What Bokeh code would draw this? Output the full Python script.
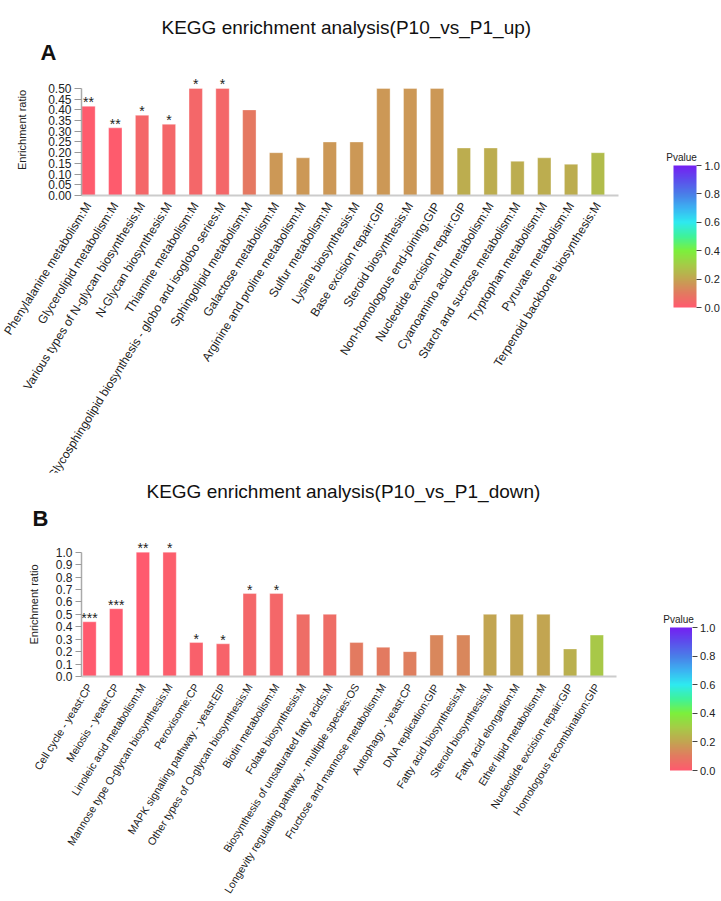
import numpy as np
from bokeh.plotting import figure
from bokeh.models import (ColumnDataSource, LinearColorMapper, ColorBar, FixedTicker,
                          PrintfTickFormatter, Label, Title)
from bokeh.layouts import column
from bokeh.transform import transform
from bokeh.embed import file_html
from bokeh.resources import INLINE
from bokeh.core.properties import value

FONT = "Liberation Sans"

# ---------------- data: P10 vs P1 up ----------------
up_pathways = [
    "Phenylalanine metabolism:M",
    "Glycerolipid metabolism:M",
    "Various types of N-glycan biosynthesis:M",
    "N-Glycan biosynthesis:M",
    "Thiamine metabolism:M",
    "Glycosphingolipid biosynthesis - globo and isoglobo series:M",
    "Sphingolipid metabolism:M",
    "Galactose metabolism:M",
    "Arginine and proline metabolism:M",
    "Sulfur metabolism:M",
    "Lysine biosynthesis:M",
    "Base excision repair:GIP",
    "Steroid biosynthesis:M",
    "Non-homologous end-joining:GIP",
    "Nucleotide excision repair:GIP",
    "Cyanoamino acid metabolism:M",
    "Starch and sucrose metabolism:M",
    "Tryptophan metabolism:M",
    "Pyruvate metabolism:M",
    "Terpenoid backbone biosynthesis:M",
]
up_ratio = [0.417, 0.316, 0.375, 0.333, 0.5, 0.5, 0.4, 0.2, 0.176, 0.25,
            0.25, 0.5, 0.5, 0.5, 0.222, 0.222, 0.16, 0.176, 0.146, 0.2]
up_pvalue = [0.004, 0.006, 0.04, 0.04, 0.04, 0.04, 0.09, 0.17, 0.17, 0.17,
             0.17, 0.17, 0.17, 0.17, 0.22, 0.22, 0.22, 0.22, 0.22, 0.26]
up_stars = ["**", "**", "*", "*", "*", "*", "", "", "", "",
            "", "", "", "", "", "", "", "", "", ""]

# ---------------- data: P10 vs P1 down ----------------
down_pathways = [
    "Cell cycle - yeast:CP",
    "Meiosis - yeast:CP",
    "Linoleic acid metabolism:M",
    "Mannose type O-glycan biosynthesis:M",
    "Peroxisome:CP",
    "MAPK signaling pathway - yeast:EIP",
    "Other types of O-glycan biosynthesis:M",
    "Biotin metabolism:M",
    "Folate biosynthesis:M",
    "Biosynthesis of unsaturated fatty acids:M",
    "Longevity regulating pathway - multiple species:OS",
    "Fructose and mannose metabolism:M",
    "Autophagy - yeast:CP",
    "DNA replication:GIP",
    "Fatty acid biosynthesis:M",
    "Steroid biosynthesis:M",
    "Fatty acid elongation:M",
    "Ether lipid metabolism:M",
    "Nucleotide excision repair:GIP",
    "Homologous recombination:GIP",
]
down_ratio = [0.44, 0.545, 1.0, 1.0, 0.273, 0.263, 0.667, 0.667, 0.5, 0.5,
              0.273, 0.235, 0.2, 0.333, 0.333, 0.5, 0.5, 0.5, 0.222, 0.333]
down_pvalue = [0.0005, 0.0008, 0.003, 0.012, 0.02, 0.03, 0.04, 0.04, 0.06, 0.06,
               0.1, 0.1, 0.11, 0.13, 0.13, 0.2, 0.2, 0.2, 0.23, 0.29]
down_stars = ["***", "***", "**", "*", "*", "*", "*", "*", "", "",
              "", "", "", "", "", "", "", "", "", ""]

up_yticks = [0, 0.05, 0.1, 0.15, 0.2, 0.25, 0.3, 0.35, 0.4, 0.45, 0.5]
down_yticks = [0, 0.1, 0.2, 0.3, 0.4, 0.5, 0.6, 0.7, 0.8, 0.9, 1.0]
cb_ticks = [0, 0.2, 0.4, 0.6, 0.8, 1.0]

# colour scale for the p-value
scale_pos = [0.0, 0.1, 0.2, 0.3, 0.4, 0.5, 0.6, 0.7, 0.8, 0.9, 1.0]
scale_col = ["#ff5a6e", "#e27b60", "#c2a551", "#a5cc47", "#7cf03c", "#3ff29a",
             "#2eeaf0", "#3cb2f2", "#4a7ee8", "#5c4eec", "#7420f2"]


def build_palette(n=256):
    rgb = np.array([[int(c[i:i + 2], 16) for i in (1, 3, 5)] for c in scale_col], float)
    t = np.linspace(0, 1, n)
    chans = [np.interp(t, scale_pos, rgb[:, k]) for k in range(3)]
    return ["#%02x%02x%02x" % (int(round(r)), int(round(g)), int(round(b)))
            for r, g, b in zip(*chans)]


PALETTE = build_palette()


def make_panel(title, letter, cats, ratio, pv, stars, y_end, y_top, y_ticks, y_fmt,
               x_start, x_end, x_bound, height, b_left, b_top, b_bottom,
               title_off, title_standoff, letter_off, letter_standoff, ylab_standoff,
               tick_out, xlab_size, cb_xy, cb_size, pv_xy):
    mapper = LinearColorMapper(palette=PALETTE, low=0, high=1)
    xs = list(range(len(cats)))
    src = ColumnDataSource(dict(x=xs, ratio=ratio, p=pv, stars=stars))
    p = figure(width=721, height=height, x_range=(x_start, x_end), y_range=(0, y_end),
               output_backend="svg", toolbar_location=None, title=None,
               min_border_left=b_left, min_border_right=0,
               min_border_top=b_top, min_border_bottom=b_bottom)
    p.outline_line_color = None
    p.grid.visible = False
    p.background_fill_color = "white"
    p.border_fill_color = "white"

    p.vbar(x="x", top="ratio", width=0.5, source=src,
           fill_color=transform("p", mapper), line_color="white", line_alpha=0.35,
           line_width=1)
    p.text(x="x", y="ratio", text="stars", source=src, text_align="center",
           text_baseline="alphabetic", y_offset=-4, text_font=value(FONT),
           text_font_size="14px", text_color="#222222")

    # x axis
    xa = p.xaxis[0]
    xa.ticker = FixedTicker(ticks=xs)
    xa.major_label_overrides = {i: c for i, c in enumerate(cats)}
    xa.major_label_orientation = float(np.deg2rad(58))
    xa.major_label_text_font = FONT
    xa.major_label_text_font_size = xlab_size
    xa.major_label_text_color = "#222222"
    xa.major_label_standoff = 2
    xa.major_tick_line_color = None
    xa.minor_tick_line_color = None
    xa.axis_line_color = "#cccccc"
    xa.axis_line_width = 2
    xa.bounds = x_bound

    # y axis
    ya = p.yaxis[0]
    ya.ticker = FixedTicker(ticks=y_ticks)
    ya.formatter = PrintfTickFormatter(format=y_fmt)
    ya.bounds = (0, y_top)
    ya.axis_label = "Enrichment ratio"
    ya.axis_label_text_font = FONT
    ya.axis_label_text_font_size = "11px"
    ya.axis_label_text_font_style = "normal"
    ya.axis_label_text_color = "#222222"
    ya.axis_label_standoff = ylab_standoff
    ya.major_label_text_font = FONT
    ya.major_label_text_font_size = "12px"
    ya.major_label_text_color = "#222222"
    ya.major_label_standoff = 3
    ya.axis_line_color = "#aaaaaa"
    ya.axis_line_width = 1.5
    ya.major_tick_line_color = "#999999"
    ya.major_tick_in = 0
    ya.major_tick_out = tick_out
    ya.minor_tick_line_color = None

    # titles (letter first so it sits next to the frame)
    p.add_layout(Title(text=letter, text_font=FONT, text_font_size="22px",
                       text_font_style="bold", align="left", offset=letter_off,
                       standoff=letter_standoff, text_color="#111111"), "above")
    p.add_layout(Title(text=title, text_font=FONT, text_font_size="19px",
                       text_font_style="normal", align="left", offset=title_off,
                       standoff=title_standoff, text_color="#111111"), "above")

    # colour bar
    cb = ColorBar(color_mapper=mapper, ticker=FixedTicker(ticks=cb_ticks),
                  formatter=PrintfTickFormatter(format="%.1f"),
                  width=cb_size[0], height=cb_size[1],
                  major_label_text_font=FONT, major_label_text_font_size="11px",
                  major_label_text_color="#222222", label_standoff=3,
                  major_tick_in=0, major_tick_out=5, major_tick_line_color="#444444",
                  bar_line_color=None, border_line_color=None,
                  background_fill_alpha=0, padding=0, margin=0, location=cb_xy)
    p.add_layout(cb, "center")
    p.add_layout(Label(x=pv_xy[0], y=pv_xy[1], x_units="screen", y_units="screen",
                       text="Pvalue", text_font=FONT, text_font_size="10px",
                       text_align="center", text_baseline="alphabetic",
                       text_color="#222222"))
    return p


p_up = make_panel("KEGG enrichment analysis(P10_vs_P1_up)", "A",
                  up_pathways, up_ratio, up_pvalue, up_stars,
                  0.612, 0.5, up_yticks, "%.2f",
                  -0.26, 23.61, (-0.26, 19.78), 505, 79, 64, 310,
                  80, 0, -41, 0, 17, 7, "12px",
                  (592, -112), (23, 142), (600, 38))
p_up.margin = (0, 0, -33, 0)
p_down = make_panel("KEGG enrichment analysis(P10_vs_P1_down)", "B",
                    down_pathways, down_ratio, down_pvalue, down_stars,
                    1.158, 1.0, down_yticks, "%.1f",
                    -0.3, 23.67, (-0.3, 19.73), 429, 81, 60, 224,
                    65, 0, -49, 4, 13, 6, "10.8px",
                    (588.5, -94), (22, 143), (597, 57))

layout = column(p_up, p_down, spacing=0)
open("out.html", "w").write(file_html(layout, INLINE))
